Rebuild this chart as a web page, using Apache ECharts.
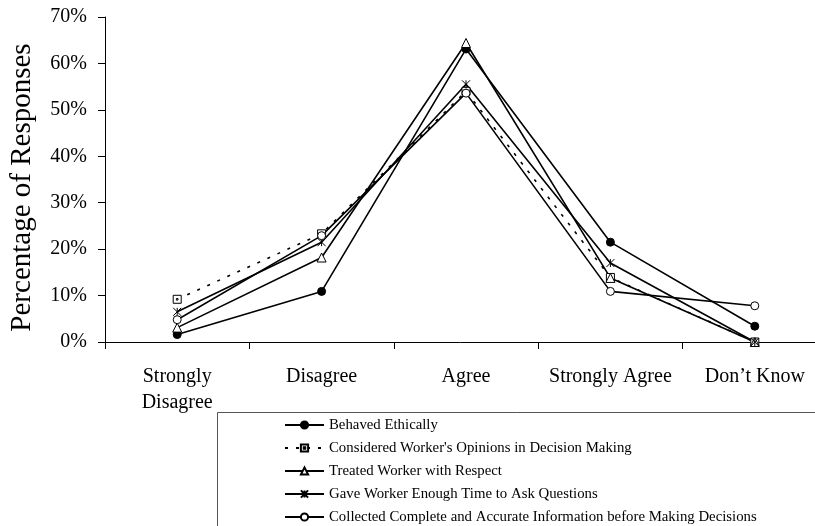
<!DOCTYPE html>
<html>
<head>
<meta charset="utf-8">
<style>
  html, body { margin: 0; padding: 0; background: #fff; }
  #chart { width: 815px; height: 526px; }
</style>
<script src="https://cdn.jsdelivr.net/npm/echarts@6/dist/echarts.min.js"></script>
</head>
<body>
<div id="chart"></div>
<script>
// Response categories along the x axis
const categories = ['Strongly Disagree', 'Disagree', 'Agree', 'Strongly Agree', 'Don\u2019t Know'];

// Y axis range and step (percent)
const yMin = 0;
const yMax = 70;
const yStep = 10;

// Percentage of responses per category, one array per statement
const behavedEthically   = [1.6, 10.9, 63.1, 21.5, 3.4];
const consideredOpinions = [9.2, 23.3, 54.0, 13.9, 0.0];
const treatedRespect     = [3.1, 18.2, 64.4, 13.8, 0.0];
const gaveEnoughTime     = [6.5, 21.5, 55.5, 17.0, 0.0];
const collectedInfo      = [4.8, 22.9, 53.6, 10.9, 7.8];

const seriesNames = [
  'Behaved Ethically',
  "Considered Worker's Opinions in Decision Making",
  'Treated Worker with Respect',
  'Gave Worker Enough Time to Ask Questions',
  'Collected Complete and Accurate Information before Making Decisions'
];

const FONT = '"Liberation Serif", "Times New Roman", serif';
const INK = '#000';

// Marker shapes: asterisk (X plus vertical bar) and a boxed dot
const asteriskPath = 'path://M0 0L10 10M10 0L0 10M5 0L5 10';
const boxDotPath = 'path://M0 0H10V10H0ZM4 4H6V6H4Z';

function makeSeries(name, values, symbol, size, fill, dashed) {
  return {
    name: name,
    type: 'line',
    data: values,
    symbol: symbol,
    symbolSize: size,
    showSymbol: true,
    z: 3,
    lineStyle: { color: INK, width: 1.6, type: dashed ? [3, 8] : 'solid' },
    itemStyle: { color: fill, borderColor: INK, borderWidth: 1 },
    emphasis: { disabled: true }
  };
}

const chart = echarts.init(document.getElementById('chart'), null, { renderer: 'canvas' });

chart.setOption({
  animation: false,
  backgroundColor: '#fff',
  textStyle: { fontFamily: FONT, color: INK },
  grid: { left: 105, right: -12, top: 17, bottom: 184, containLabel: false, outerBoundsMode: 'none' },
  xAxis: {
    type: 'category',
    data: categories,
    boundaryGap: true,
    axisLine: { lineStyle: { color: INK, width: 1 } },
    axisTick: { show: true, length: 7, inside: false, lineStyle: { color: INK } },
    axisLabel: {
      color: INK,
      fontFamily: FONT,
      fontSize: 20,
      lineHeight: 26,
      margin: 22,
      interval: 0,
      formatter: function (v) { return v === 'Strongly Disagree' ? 'Strongly\nDisagree' : v; }
    },
    splitLine: { show: false }
  },
  yAxis: {
    type: 'value',
    min: yMin,
    max: yMax,
    interval: yStep,
    name: 'Percentage of Responses',
    nameLocation: 'middle',
    nameRotate: 90,
    nameGap: 68,
    nameTextStyle: { fontFamily: FONT, fontSize: 29, color: INK, padding: [0, 16, 0, 0] },
    axisLine: { show: true, lineStyle: { color: INK, width: 1 } },
    axisTick: { show: true, length: 7, inside: false, lineStyle: { color: INK } },
    axisLabel: { color: INK, fontFamily: FONT, fontSize: 20, margin: 18, formatter: '{value}%' },
    splitLine: { show: false }
  },
  // Frame around the legend, running past the right and bottom edges
  graphic: [{
    type: 'rect',
    z: 1,
    silent: true,
    shape: { x: 217.5, y: 412.5, width: 700, height: 200 },
    style: { fill: 'none', stroke: '#555', lineWidth: 1 }
  }],
  legend: {
    orient: 'vertical',
    left: 284,
    top: 417,
    padding: 0,
    itemWidth: 39,
    itemHeight: 9,
    itemGap: 7,
    textStyle: { fontFamily: FONT, fontSize: 14.8, lineHeight: 16, color: INK },
    data: seriesNames,
    selectedMode: false
  },
  series: [
    makeSeries(seriesNames[0], behavedEthically, 'circle', 8, INK, false),
    makeSeries(seriesNames[1], consideredOpinions, boxDotPath, 8, '#fff', true),
    makeSeries(seriesNames[2], treatedRespect, 'triangle', 9, '#fff', false),
    makeSeries(seriesNames[3], gaveEnoughTime, asteriskPath, 8, INK, false),
    makeSeries(seriesNames[4], collectedInfo, 'circle', 8, '#fff', false)
  ]
});
</script>
</body>
</html>
